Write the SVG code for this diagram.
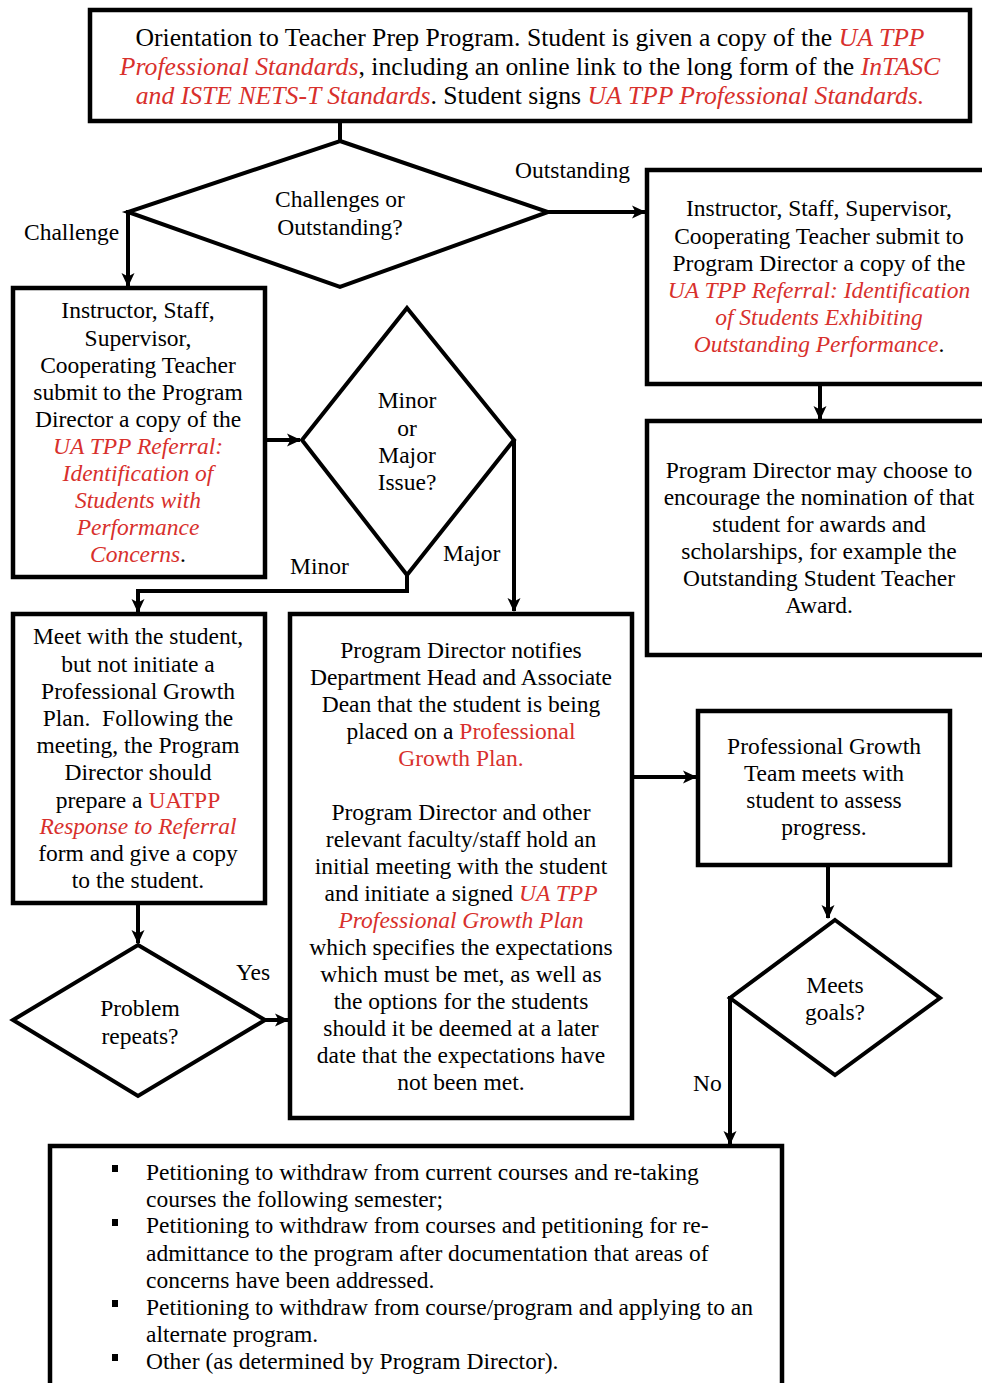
<svg xmlns="http://www.w3.org/2000/svg" width="982" height="1383" viewBox="0 0 982 1383">
<defs>
<marker id="ah" markerUnits="userSpaceOnUse" markerWidth="15" markerHeight="15" refX="13" refY="7.5" orient="auto">
<path d="M0,1 L14,7.5 L0,14 L3.5,7.5 Z" fill="#000"/>
</marker>
<style>
.box{fill:#fff;stroke:#000;stroke-width:4.5}
.dia{fill:#fff;stroke:#000;stroke-width:4}
.con{fill:none;stroke:#000;stroke-width:4}
.arr{fill:none;stroke:#000;stroke-width:4;marker-end:url(#ah)}
text{font-family:"Liberation Serif","Times New Roman",serif;font-size:23.5px;fill:#000}
.c{text-anchor:middle}
.r{fill:#d8302c}
.ri{fill:#d8302c;font-style:italic}
.t{font-size:25.7px}
</style>
</defs>
<rect width="982" height="1383" fill="#fff"/>

<g id="connectors">
<line class="con" x1="340" y1="121" x2="340" y2="141"/>
<line class="arr" x1="548" y1="212" x2="645" y2="212"/>
<polyline class="arr" points="130,212 128,212 128,286"/>
<line class="arr" x1="820" y1="385" x2="820" y2="419"/>
<line class="arr" x1="266" y1="440" x2="300" y2="440"/>
<polyline class="arr" points="514,440 514,611"/>
<polyline class="arr" points="407,575 407,591 138,591 138,612"/>
<line class="arr" x1="138" y1="904" x2="138" y2="943"/>
<line class="arr" x1="265" y1="1020" x2="288" y2="1020"/>
<line class="arr" x1="633" y1="777" x2="696" y2="777"/>
<line class="arr" x1="828" y1="866" x2="828" y2="918"/>
<polyline class="arr" points="732,998 730,998 730,1144"/>
</g>

<g id="n-orientation">
<rect class="box" x="90" y="10" width="880" height="111"/>
<text class="c t" x="530" y="46">Orientation to Teacher Prep Program. Student is given a copy of the <tspan class="ri">UA TPP</tspan></text>
<text class="c t" x="530" y="75"><tspan class="ri">Professional Standards</tspan>, including an online link to the long form of the <tspan class="ri">InTASC</tspan></text>
<text class="c t" x="530" y="104"><tspan class="ri">and ISTE NETS-T Standards</tspan>. Student signs <tspan class="ri">UA TPP Professional Standards.</tspan></text>
</g>

<g id="n-decision1">
<polygon class="dia" points="340,141 548,212 340,287 128,212"/>
<text class="c" x="340" y="207">Challenges or</text>
<text class="c" x="340" y="235">Outstanding?</text>
<text x="515" y="178">Outstanding</text>
<text x="24" y="240">Challenge</text>
</g>

<g id="n-referral-concerns">
<rect class="box" x="13" y="288" width="252" height="289"/>
<text class="c" x="138" y="318">Instructor, Staff,</text>
<text class="c" x="138" y="346">Supervisor,</text>
<text class="c" x="138" y="373">Cooperating Teacher</text>
<text class="c" x="138" y="400">submit to the Program</text>
<text class="c" x="138" y="427">Director a copy of the</text>
<text class="c ri" x="138" y="454">UA TPP Referral:</text>
<text class="c ri" x="138" y="481">Identification of</text>
<text class="c ri" x="138" y="508">Students with</text>
<text class="c ri" x="138" y="535">Performance</text>
<text class="c" x="138" y="562"><tspan class="ri">Concerns</tspan>.</text>
</g>

<g id="n-decision2">
<polygon class="dia" points="407,308 514,440 407,575 302,440"/>
<text class="c" x="407" y="408">Minor</text>
<text class="c" x="407" y="436">or</text>
<text class="c" x="407" y="463">Major</text>
<text class="c" x="407" y="490">Issue?</text>
<text x="290" y="574">Minor</text>
<text x="443" y="561">Major</text>
</g>

<g id="n-referral-outstanding">
<rect class="box" x="647" y="170" width="345" height="214"/>
<text class="c" x="819" y="216">Instructor, Staff, Supervisor,</text>
<text class="c" x="819" y="244">Cooperating Teacher submit to</text>
<text class="c" x="819" y="271">Program Director a copy of the</text>
<text class="c ri" x="819" y="298">UA TPP Referral: Identification</text>
<text class="c ri" x="819" y="325">of Students Exhibiting</text>
<text class="c" x="819" y="352"><tspan class="ri">Outstanding Performance</tspan>.</text>
</g>

<g id="n-awards">
<rect class="box" x="647" y="421" width="345" height="234"/>
<text class="c" x="819" y="478">Program Director may choose to</text>
<text class="c" x="819" y="505">encourage the nomination of that</text>
<text class="c" x="819" y="532">student for awards and</text>
<text class="c" x="819" y="559">scholarships, for example the</text>
<text class="c" x="819" y="586">Outstanding Student Teacher</text>
<text class="c" x="819" y="613">Award.</text>
</g>

<g id="n-meet-student">
<rect class="box" x="13" y="614" width="252" height="289"/>
<text class="c" x="138" y="644">Meet with the student,</text>
<text class="c" x="138" y="672">but not initiate a</text>
<text class="c" x="138" y="699">Professional Growth</text>
<text class="c" x="138" y="726" xml:space="preserve">Plan.  Following the</text>
<text class="c" x="138" y="753">meeting, the Program</text>
<text class="c" x="138" y="780">Director should</text>
<text class="c" x="138" y="808">prepare a <tspan class="r">UATPP</tspan></text>
<text class="c ri" x="138" y="834">Response to Referral</text>
<text class="c" x="138" y="861">form and give a copy</text>
<text class="c" x="138" y="888">to the student.</text>
</g>

<g id="n-growth-plan">
<rect class="box" x="290" y="614" width="342" height="504"/>
<text class="c" x="461" y="658">Program Director notifies</text>
<text class="c" x="461" y="685">Department Head and Associate</text>
<text class="c" x="461" y="712">Dean that the student is being</text>
<text class="c" x="461" y="739">placed on a <tspan class="r">Professional</tspan></text>
<text class="c r" x="461" y="766">Growth Plan.</text>
<text class="c" x="461" y="820">Program Director and other</text>
<text class="c" x="461" y="847">relevant faculty/staff hold an</text>
<text class="c" x="461" y="874">initial meeting with the student</text>
<text class="c" x="461" y="901">and initiate a signed <tspan class="ri">UA TPP</tspan></text>
<text class="c ri" x="461" y="928">Professional Growth Plan</text>
<text class="c" x="461" y="955">which specifies the expectations</text>
<text class="c" x="461" y="982">which must be met, as well as</text>
<text class="c" x="461" y="1009">the options for the students</text>
<text class="c" x="461" y="1036">should it be deemed at a later</text>
<text class="c" x="461" y="1063">date that the expectations have</text>
<text class="c" x="461" y="1090">not been met.</text>
</g>

<g id="n-decision3">
<polygon class="dia" points="138,945 265,1020 138,1096 13,1020"/>
<text class="c" x="140" y="1016">Problem</text>
<text class="c" x="140" y="1044">repeats?</text>
<text x="236" y="980">Yes</text>
</g>

<g id="n-team-meets">
<rect class="box" x="698" y="711" width="252" height="154"/>
<text class="c" x="824" y="754">Professional Growth</text>
<text class="c" x="824" y="781">Team meets with</text>
<text class="c" x="824" y="808">student to assess</text>
<text class="c" x="824" y="835">progress.</text>
</g>

<g id="n-decision4">
<polygon class="dia" points="835,920 940,998 835,1075 730,998"/>
<text class="c" x="835" y="993">Meets</text>
<text class="c" x="835" y="1020">goals?</text>
<text x="693" y="1091">No</text>
</g>

<g id="n-options">
<rect class="box" x="50" y="1146" width="732" height="250"/>
<rect x="112" y="1165" width="6" height="7" fill="#000"/>
<rect x="112" y="1219" width="6" height="7" fill="#000"/>
<rect x="112" y="1300" width="6" height="7" fill="#000"/>
<rect x="112" y="1354" width="6" height="7" fill="#000"/>
<text x="146" y="1180">Petitioning to withdraw from current courses and re-taking</text>
<text x="146" y="1207">courses the following semester;</text>
<text x="146" y="1233">Petitioning to withdraw from courses and petitioning for re-</text>
<text x="146" y="1261">admittance to the program after documentation that areas of</text>
<text x="146" y="1288">concerns have been addressed.</text>
<text x="146" y="1315">Petitioning to withdraw from course/program and applying to an</text>
<text x="146" y="1342">alternate program.</text>
<text x="146" y="1369">Other (as determined by Program Director).</text>
</g>
</svg>
